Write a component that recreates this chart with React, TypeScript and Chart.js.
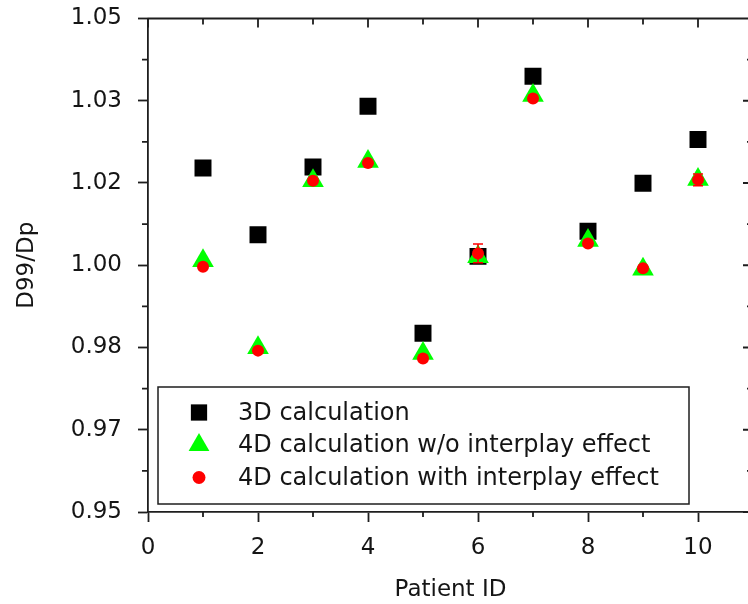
import React, { useEffect, useRef } from 'react';
import { Chart, registerables } from 'chart.js';
import * as helpers from 'chart.js/helpers';

Chart.register(...registerables);

// ---- data ----
const patientIds = [1, 2, 3, 4, 5, 6, 7, 8, 9, 10];
const calc3D = [1.0197, 1.0062, 1.0199, 1.0322, 0.9862, 1.0018, 1.0383, 1.0069, 1.0166, 1.0255];
const calc4DNoInterplay = [1.0009, 0.9833, 1.0171, 1.021, 0.9821, 1.0017, 1.0344, 1.005, 0.9992, 1.0174];
const calc4DInterplay = [0.9997, 0.9827, 1.0171, 1.0207, 0.9811, 1.0024, 1.0338, 1.0044, 0.9994, 1.0173];
const interplayError = [0, 0, 0, 0, 0, 0.0019, 0, 0, 0, 0.0012];
const seriesLabels = [
  '3D calculation',
  '4D calculation w/o interplay effect',
  '4D calculation with interplay effect',
];
const yTickValues = [0.95, 0.96667, 0.98333, 1.0, 1.01667, 1.03333, 1.05];
const yTickLabels = ['0.95', '0.97', '0.98', '1.00', '1.02', '1.03', '1.05'];
const yMinorTicks = [0.95833, 0.975, 0.99167, 1.00833, 1.025, 1.04167];
const xTickValues = [0, 2, 4, 6, 8, 10];
const xTickLabels = ['0', '2', '4', '6', '8', '10'];
const xMinorTicks = [1, 3, 5, 7, 9];
const xTitle = 'Patient ID';
const yTitle = 'D99/Dp';

// ---- styles ----
const FONT = 'DejaVu Sans';
const TEXT = '#151515';
const AXIS = '#1e1e1e';
const AXIS_W = 1.8;
const BLACK = '#000000';
const GREEN = '#00ff00';
const RED = '#ff0000';
const markerStyles = [
  { pointStyle: 'rect', radius: 12, color: BLACK, legendRadius: 11.5 },
  { pointStyle: 'triangle', radius: 12.5, color: GREEN, legendRadius: 12 },
  { pointStyle: 'circle', radius: 6, color: RED, legendRadius: 6.5 },
];

const frameTicks = {
  id: 'frameTicks',
  afterDraw(chart: any) {
    const { ctx, chartArea: a, scales } = chart;
    const x = scales.x;
    const y = scales.y;
    ctx.save();
    ctx.strokeStyle = AXIS;
    ctx.lineWidth = AXIS_W;
    ctx.lineCap = 'butt';
    ctx.beginPath();
    ctx.moveTo(a.left - AXIS_W / 2, a.top);
    ctx.lineTo(a.right, a.top);
    ctx.lineTo(a.right, a.bottom + AXIS_W / 2);
    yMinorTicks.forEach((v) => {
      const py = y.getPixelForValue(v);
      ctx.moveTo(a.left - 6, py);
      ctx.lineTo(a.left, py);
      ctx.moveTo(a.right, py);
      ctx.lineTo(a.right - 6, py);
    });
    yTickValues.forEach((v) => {
      const py = y.getPixelForValue(v);
      ctx.moveTo(a.right, py);
      ctx.lineTo(a.right - 10, py);
    });
    xMinorTicks.forEach((v) => {
      const px = x.getPixelForValue(v);
      ctx.moveTo(px, a.bottom);
      ctx.lineTo(px, a.bottom + 5);
      ctx.moveTo(px, a.top);
      ctx.lineTo(px, a.top + 6);
    });
    xTickValues.forEach((v) => {
      const px = x.getPixelForValue(v);
      ctx.moveTo(px, a.top);
      ctx.lineTo(px, a.top + 9);
    });
    ctx.stroke();
    ctx.restore();
  },
};

const boxLegend = {
  id: 'boxLegend',
  afterDraw(chart: any) {
    const { ctx } = chart;
    const box = { left: 158, top: 387, right: 689, bottom: 504 };
    const rows = [412.5, 445, 477.5];
    const markerX = 199;
    const textX = 238;
    ctx.save();
    ctx.fillStyle = '#ffffff';
    ctx.fillRect(box.left, box.top, box.right - box.left, box.bottom - box.top);
    ctx.strokeStyle = AXIS;
    ctx.lineWidth = 1.5;
    ctx.strokeRect(box.left, box.top, box.right - box.left, box.bottom - box.top);
    seriesLabels.forEach((label, i) => {
      const m = markerStyles[i];
      ctx.fillStyle = m.color;
      helpers.drawPoint(ctx, { pointStyle: m.pointStyle, radius: m.legendRadius, rotation: 0, borderWidth: 0 }, markerX, rows[i]);
      ctx.fillStyle = TEXT;
      ctx.font = `24px "${FONT}"`;
      ctx.textAlign = 'left';
      ctx.textBaseline = 'middle';
      ctx.fillText(label, textX, rows[i] + 1);
    });
    ctx.restore();
  },
};

export default function App() {
  const ref = useRef<HTMLCanvasElement>(null);

  useEffect(() => {
    const canvas = ref.current;
    if (!canvas) return;
    const series = [calc3D, calc4DNoInterplay, calc4DInterplay];
    const mainSets = series.map((vals, s) => ({
      type: 'scatter',
      label: seriesLabels[s],
      data: patientIds.map((x, i) => ({ x, y: vals[i] })),
      pointStyle: markerStyles[s].pointStyle,
      pointRadius: markerStyles[s].radius,
      pointBackgroundColor: markerStyles[s].color,
      pointBorderColor: markerStyles[s].color,
      pointBorderWidth: 0,
      showLine: false,
      order: 3 - s,
    }));
    const errorSets = patientIds.flatMap((x, i) =>
      interplayError[i] > 0
        ? [
            {
              type: 'line',
              label: 'error',
              data: [
                { x, y: calc4DInterplay[i] - interplayError[i] },
                { x, y: calc4DInterplay[i] + interplayError[i] },
              ],
              showLine: true,
              borderColor: RED,
              borderWidth: 1.5,
              pointStyle: 'line',
              pointRadius: 5,
              pointBorderColor: RED,
              pointBorderWidth: 1.5,
              fill: false,
              order: 0,
            },
          ]
        : []
    );

    const axisFont = { family: FONT, size: 23 };

    const chart = new Chart(canvas, {
      type: 'scatter',
      data: { datasets: [...mainSets, ...errorSets] as any },
      options: {
        responsive: false,
        animation: false,
        events: [],
        layout: { padding: { top: 18.5, right: 17, left: 0, bottom: 0 } },
        plugins: { legend: { display: false }, tooltip: { enabled: false } },
        scales: {
          x: {
            type: 'linear',
            min: 0,
            max: 11,
            afterBuildTicks: (s: any) => {
              s.ticks = xTickValues.map((v) => ({ value: v }));
            },
            afterFit: (s: any) => {
              s.height = 92;
              s.paddingLeft = 0;
              s.paddingRight = 0;
            },
            ticks: {
              callback: (v: any) => xTickLabels[xTickValues.indexOf(Number(v))],
              font: axisFont,
              color: TEXT,
              padding: 12,
              maxRotation: 0,
              autoSkip: false,
            },
            grid: {
              display: true,
              drawOnChartArea: false,
              drawTicks: true,
              tickLength: 10,
              tickColor: AXIS,
              tickWidth: AXIS_W,
            },
            border: { display: true, color: AXIS, width: AXIS_W },
            title: {
              display: true,
              text: xTitle,
              font: axisFont,
              color: TEXT,
              padding: { top: 0, bottom: 0 },
            },
          },
          y: {
            type: 'linear',
            min: 0.95,
            max: 1.05,
            afterBuildTicks: (s: any) => {
              s.ticks = yTickValues.map((v) => ({ value: v }));
            },
            afterFit: (s: any) => {
              s.width = 148;
              s.paddingTop = 0;
              s.paddingBottom = 0;
            },
            ticks: {
              callback: (v: any) => yTickLabels[yTickValues.indexOf(Number(v))],
              font: axisFont,
              color: TEXT,
              padding: 16,
              autoSkip: false,
            },
            grid: {
              display: true,
              drawOnChartArea: false,
              drawTicks: true,
              tickLength: 10,
              tickColor: AXIS,
              tickWidth: AXIS_W,
            },
            border: { display: true, color: AXIS, width: AXIS_W },
            title: {
              display: true,
              text: yTitle,
              font: axisFont,
              color: TEXT,
              padding: { top: 13, bottom: 0 },
            },
          },
        },
      } as any,
      plugins: [frameTicks, boxLegend],
    });
    return () => chart.destroy();
  }, []);

  return (
    <div
      style={{
        position: 'fixed',
        left: 0,
        top: 0,
        width: 748,
        height: 604,
        overflow: 'hidden',
        background: '#ffffff',
      }}
    >
      <canvas ref={ref} width={770} height={604} style={{ width: 770, height: 604, display: 'block' }} />
    </div>
  );
}
